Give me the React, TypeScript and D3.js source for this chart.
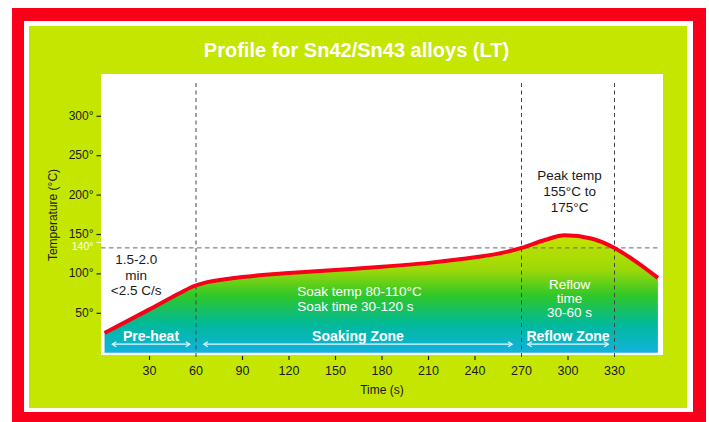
import React from "react";
import * as d3 from "d3";

// Reflow profile readings (time in s, temperature in °C)
const times = [1, 30, 50, 58, 66, 80, 90, 120, 150, 180, 210, 240, 258, 270, 285, 298, 315, 330, 345, 358];
const temps = [25, 55, 76, 84, 89, 93.5, 96, 101, 105, 109, 114, 121, 127, 133, 143, 149, 145, 133, 114, 95];

const xTicks = [30, 60, 90, 120, 150, 180, 210, 240, 270, 300, 330];
const yTicks = [50, 100, 150, 200, 250, 300];
const zoneBounds = [60, 270, 330];
const liquidusLine = 133;
const liquidusLabel = 140;

const zoneNames = ["Pre-heat", "Soaking Zone", "Reflow Zone"];
const zoneStarts = [6, 65, 274];
const zoneEnds = [56, 264, 326];

const W = 709;
const H = 422;
const FONT = "'Liberation Sans', Arial, Helvetica, sans-serif";

const RED = "#f8001a";
const LIME = "#c4e600";

export default function App() {
  const x = d3.scaleLinear().domain([0, 360]).range([103, 661]);
  const y = d3.scaleLinear().domain([0, 350]).range([352.7, 76.9]);

  const pts = times.map((t, i) => [t, temps[i]] as [number, number]);

  const area = d3
    .area<[number, number]>()
    .x((d) => x(d[0]))
    .y0(y(0))
    .y1((d) => y(d[1]))
    .curve(d3.curveMonotoneX);
  const line = d3
    .line<[number, number]>()
    .x((d) => x(d[0]))
    .y((d) => y(d[1]))
    .curve(d3.curveMonotoneX);

  const plot = { x: 101, y: 74, w: 562, h: 281 };
  const arrowY = y(0) - 8.5;

  const multi = (lines: string[], cx: number, cy: number, gap: number, fill: string, anchor = "middle") => (
    <text x={cx} fill={fill} fontSize={13.5} textAnchor={anchor} fontFamily={FONT}>
      {lines.map((l, i) => (
        <tspan key={i} x={cx} y={cy + i * gap} dominantBaseline="central">
          {l}
        </tspan>
      ))}
    </text>
  );

  return (
    <svg
      width={W}
      height={H}
      style={{ position: "absolute", left: 0, top: 0, background: "#fff" }}
      fontFamily={FONT}
    >
      <defs>
        <linearGradient id="heat" gradientUnits="userSpaceOnUse" x1={0} x2={0} y1={y(150)} y2={y(0)}>
          <stop offset="0" stopColor="#c6e400" />
          <stop offset="0.3" stopColor="#9cd808" />
          <stop offset="0.52" stopColor="#2ec72a" />
          <stop offset="0.76" stopColor="#00b99a" />
          <stop offset="1" stopColor="#12b2de" />
        </linearGradient>
      </defs>

      {/* frame */}
      <rect x={12} y={8} width={694} height={420} fill={RED} />
      <rect x={24} y={21} width={669} height={391} fill="#fff" />
      <rect x={29} y={26} width={658} height={382} fill={LIME} />
      <rect x={plot.x} y={plot.y} width={plot.w} height={plot.h} fill="#fff" />

      <text x={356.5} y={57} textAnchor="middle" fill="#fff" fontSize={20} fontWeight="bold">
        Profile for Sn42/Sn43 alloys (LT)
      </text>

      {/* filled profile */}
      <path d={area(pts) ?? ""} fill="url(#heat)" />

      {/* guides */}
      <line
        x1={plot.x}
        x2={x(359)}
        y1={y(liquidusLine)}
        y2={y(liquidusLine)}
        stroke="#666"
        strokeWidth={1}
        strokeDasharray="4.5,3.5"
      />
      {zoneBounds.map((t) => (
        <line
          key={t}
          x1={x(t)}
          x2={x(t)}
          y1={83}
          y2={360}
          stroke="#444"
          strokeWidth={1}
          strokeDasharray="4,3.5"
        />
      ))}

      <path d={line(pts) ?? ""} fill="none" stroke={RED} strokeWidth={4} strokeLinejoin="round" />

      {/* zone arrows and labels */}
      {zoneNames.map((name, i) => {
        const a = x(zoneStarts[i]);
        const b = x(zoneEnds[i]);
        return (
          <g key={name}>
            <line x1={a} x2={b} y1={arrowY} y2={arrowY} stroke="#e6f8ff" strokeWidth={1.2} />
            <path
              d={`M${a + 4},${arrowY - 2.5}L${a},${arrowY}L${a + 4},${arrowY + 2.5}M${b - 4},${arrowY - 2.5}L${b},${arrowY}L${b - 4},${arrowY + 2.5}`}
              fill="none"
              stroke="#e6f8ff"
              strokeWidth={1.2}
            />
            <text
              x={(a + b) / 2}
              y={arrowY - 8}
              textAnchor="middle"
              dominantBaseline="central"
              fill="#fff"
              fontSize={14}
              fontWeight="bold"
            >
              {name}
            </text>
          </g>
        );
      })}

      {/* annotations */}
      {multi(["1.5-2.0", "min", "<2.5 C/s"], x(21.4), y(118), 15.5, "#1a1a1a")}
      {multi(["Soak temp 80-110°C", "Soak time 30-120 s"], x(125.3), y(77.4), 14.5, "#fff", "start")}
      {multi(["Reflow", "time", "30-60 s"], x(301), y(87), 14, "#fff")}
      {multi(["Peak temp", "155°C to", "175°C"], x(301), y(225.5), 16, "#1a1a1a")}

      {/* x axis */}
      {xTicks.map((t) => (
        <g key={t}>
          {!zoneBounds.includes(t) && (
            <line x1={x(t)} x2={x(t)} y1={356} y2={360} stroke="#222" strokeWidth={1.2} />
          )}
          <text x={x(t)} y={370.5} textAnchor="middle" dominantBaseline="central" fontSize={12.5} fill="#1a1a1a">
            {t}
          </text>
        </g>
      ))}
      <text x={382} y={390} textAnchor="middle" dominantBaseline="central" fontSize={12} fill="#1a1a1a">
        Time (s)
      </text>

      {/* y axis */}
      {yTicks.map((v) => (
        <g key={v}>
          <line x1={96.5} x2={101} y1={y(v)} y2={y(v)} stroke="#222" strokeWidth={1.2} />
          <text x={93.5} y={y(v) - 0.5} textAnchor="end" dominantBaseline="central" fontSize={12} fill="#1a1a1a">
            {v}°
          </text>
        </g>
      ))}
      <line x1={96.5} x2={101} y1={y(liquidusLabel)} y2={y(liquidusLabel)} stroke="#fff" strokeWidth={1} />
      <text
        x={93.5}
        y={y(liquidusLabel) + 3.5}
        textAnchor="end"
        dominantBaseline="central"
        fontSize={10.5}
        fill="#fff"
      >
        {liquidusLabel}°
      </text>
      <text
        transform={`translate(53,215) rotate(-90)`}
        textAnchor="middle"
        dominantBaseline="central"
        fontSize={12}
        fill="#1a1a1a"
      >
        Temperature (°C)
      </text>
    </svg>
  );
}
